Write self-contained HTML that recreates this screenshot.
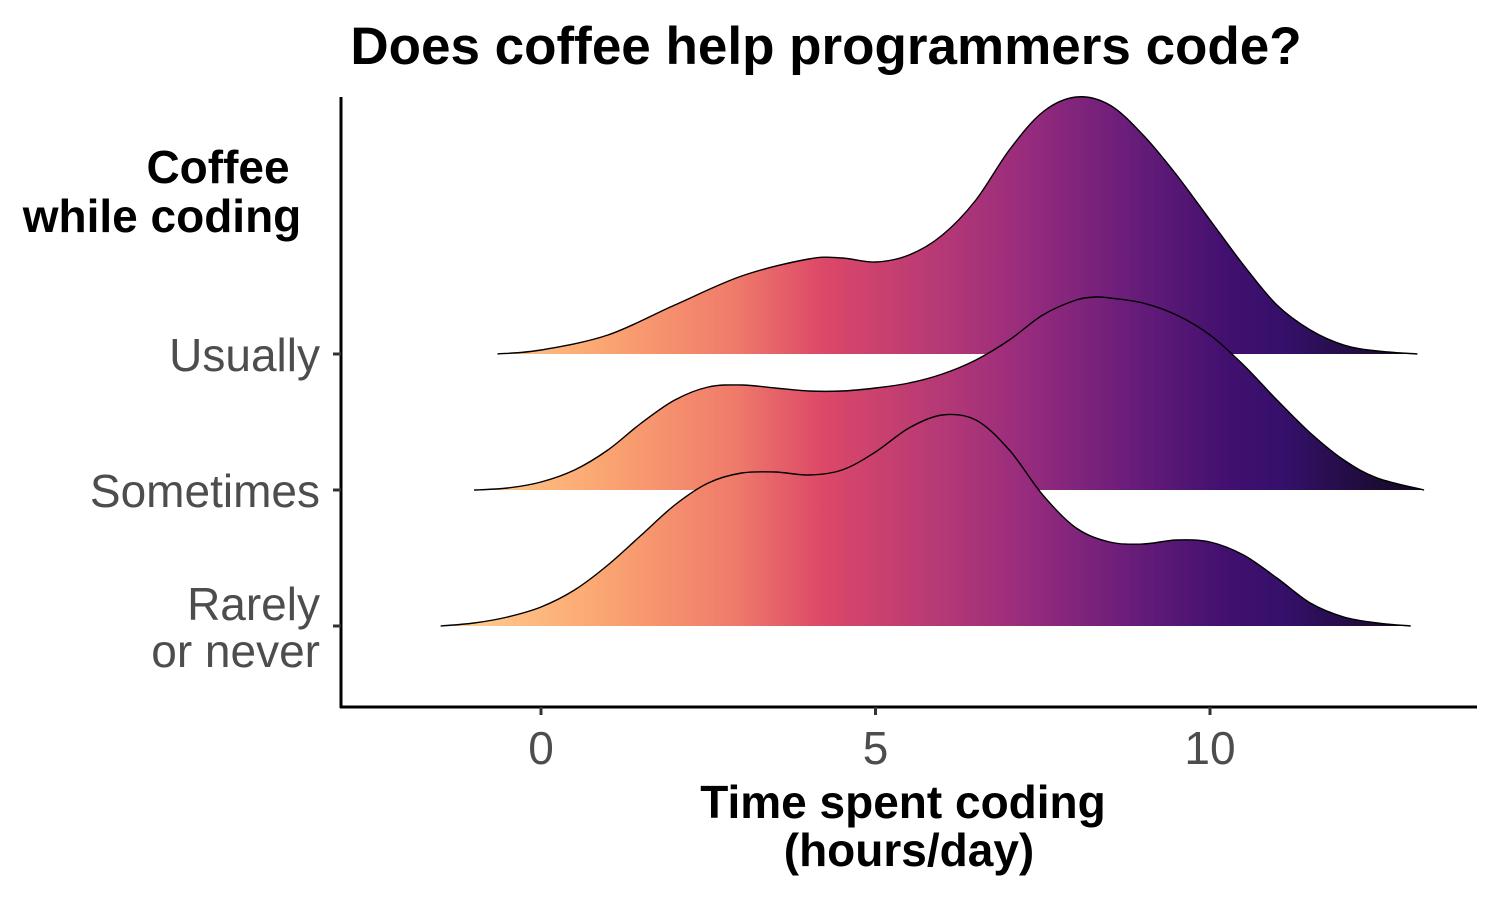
<!DOCTYPE html>
<html><head><meta charset="utf-8"><style>
html,body{margin:0;padding:0;background:#fff;}
svg text{font-family:"Liberation Sans",Arial,sans-serif;}
</style></head><body>
<svg id="chart" width="1500" height="900" viewBox="0 0 1500 900">
<defs>
<linearGradient id="magma" gradientUnits="userSpaceOnUse" x1="441" y1="0" x2="1422" y2="0">
<stop offset="0" stop-color="#fed395"/>
<stop offset="0.15" stop-color="#fcaa73"/>
<stop offset="0.3" stop-color="#ef7a6a"/>
<stop offset="0.39" stop-color="#dc4868"/>
<stop offset="0.5" stop-color="#b83a75"/>
<stop offset="0.6" stop-color="#962b7d"/>
<stop offset="0.7" stop-color="#6a1d7a"/>
<stop offset="0.8" stop-color="#42106f"/>
<stop offset="0.86" stop-color="#35106a"/>
<stop offset="1" stop-color="#100a1c"/>
</linearGradient>
</defs>
<text x="826" y="64" text-anchor="middle" font-size="53" font-weight="bold">Does coffee help programmers code?</text>
<g>
<text x="218" y="183" text-anchor="middle" font-size="46" font-weight="bold">Coffee</text>
<text x="162" y="232" text-anchor="middle" font-size="46" font-weight="bold">while coding</text>
</g>
<g id="ridges"></g>
<line x1="341" y1="97" x2="341" y2="708" stroke="#000" stroke-width="3"/>
<line x1="340" y1="707" x2="1477" y2="707" stroke="#000" stroke-width="3"/>
<g id="yticks"></g>
<g id="xticks"></g>
<g>
<text x="903" y="818" text-anchor="middle" font-size="46" font-weight="bold">Time spent coding</text>
<text x="909" y="866" text-anchor="middle" font-size="46" font-weight="bold">(hours/day)</text>
</g>
</svg>
<script>
const categories = ["Usually", "Sometimes", "Rarely\nor never"];
const xTicks = [0, 5, 10];
const usuallyX = [-0.65,0,1,2,3,4,4.5,5,5.5,6,6.5,7,7.5,8,8.5,9,9.5,10,10.5,11,11.5,12,12.5,13.1];
const usuallyD = [0,0.004,0.019,0.049,0.078,0.095,0.096,0.092,0.099,0.119,0.154,0.204,0.242,0.257,0.249,0.219,0.179,0.134,0.089,0.049,0.024,0.009,0.003,0];
const sometimesX = [-1,-0.5,0,0.5,1,1.5,2,2.5,3,3.5,4,4.5,5,5.5,6,6.5,7,7.5,8,8.3,8.5,9,9.5,10,10.5,11,11.5,12,12.5,13.2];
const sometimesD = [0,0.002,0.008,0.020,0.040,0.067,0.090,0.103,0.105,0.102,0.099,0.099,0.102,0.107,0.116,0.130,0.150,0.175,0.190,0.193,0.192,0.187,0.175,0.155,0.125,0.090,0.057,0.030,0.012,0];
const rarelyX = [-1.5,-1,-0.5,0,0.5,1,1.5,2,2.5,3,3.5,4,4.5,5,5.5,6,6.5,7,7.5,8,8.5,9,9.5,10,10.5,11,11.5,12,12.5,13];
const rarelyD = [0,0.003,0.009,0.019,0.036,0.061,0.091,0.121,0.143,0.153,0.154,0.151,0.156,0.174,0.198,0.211,0.206,0.176,0.131,0.098,0.084,0.082,0.086,0.084,0.071,0.048,0.023,0.009,0.003,0];

const ns = "http://www.w3.org/2000/svg";
const xs = v => 541 + v * 66.9;
const baselines = [354, 490, 626];
const yScale = (d, i) => baselines[i] - d * 1000;

function smoothPath(pts) {
  let d = "M" + pts[0][0] + "," + pts[0][1];
  for (let i = 0; i < pts.length - 1; i++) {
    const p0 = pts[i-1] || pts[i], p1 = pts[i], p2 = pts[i+1], p3 = pts[i+2] || p2;
    const c1 = [p1[0] + (p2[0]-p0[0])/6, p1[1] + (p2[1]-p0[1])/6];
    const c2 = [p2[0] - (p3[0]-p1[0])/6, p2[1] - (p3[1]-p1[1])/6];
    d += " C" + c1[0].toFixed(1) + "," + c1[1].toFixed(1) + " " + c2[0].toFixed(1) + "," + c2[1].toFixed(1) + " " + p2[0].toFixed(1) + "," + p2[1].toFixed(1);
  }
  return d;
}

const series = [[usuallyX, usuallyD], [sometimesX, sometimesD], [rarelyX, rarelyD]];
const names = ['ridge-usually', 'ridge-sometimes', 'ridge-rarely'];
const ridges = document.getElementById('ridges');
series.forEach((s, i) => {
  const pts = s[0].map((x, k) => [xs(x), yScale(s[1][k], i)]);
  const line = smoothPath(pts);
  const fill = document.createElementNS(ns, 'path');
  fill.setAttribute('d', line + " L" + pts[pts.length-1][0] + "," + baselines[i] + " L" + pts[0][0] + "," + baselines[i] + " Z");
  fill.setAttribute('fill', 'url(#magma)');
  
  
  ridges.appendChild(fill);
  const st = document.createElementNS(ns, 'path');
  st.setAttribute('d', line);
  st.setAttribute('fill', 'none');
  st.setAttribute('stroke', '#000');
  st.setAttribute('stroke-width', '1.4');
  
  
  ridges.appendChild(st);
});

const yt = document.getElementById('yticks');
categories.forEach((c, i) => {
  const y = baselines[i];
  const t = document.createElementNS(ns, 'line');
  t.setAttribute('x1', 333); t.setAttribute('x2', 341);
  t.setAttribute('y1', y); t.setAttribute('y2', y);
  t.setAttribute('stroke', '#333'); t.setAttribute('stroke-width', '3');
  
  
  yt.appendChild(t);
  const lines = c.split("\n");
  const tx = document.createElementNS(ns, 'text');
  tx.setAttribute('text-anchor', 'end');
  tx.setAttribute('font-size', '46');
  tx.setAttribute('fill', '#4d4d4d');
  
  
  const startY = y + 17 - (lines.length - 1) * 23;
  lines.forEach((l, k) => {
    const sp = document.createElementNS(ns, 'tspan');
    sp.setAttribute('x', 320);
    sp.setAttribute('y', startY + k * 47);
    sp.textContent = l;
    tx.appendChild(sp);
  });
  yt.appendChild(tx);
});

const xt = document.getElementById('xticks');
xTicks.forEach(v => {
  const t = document.createElementNS(ns, 'line');
  t.setAttribute('x1', xs(v)); t.setAttribute('x2', xs(v));
  t.setAttribute('y1', 707); t.setAttribute('y2', 715);
  t.setAttribute('stroke', '#333'); t.setAttribute('stroke-width', '3');
  
  
  xt.appendChild(t);
  const tx = document.createElementNS(ns, 'text');
  tx.setAttribute('x', xs(v));
  tx.setAttribute('y', 764);
  tx.setAttribute('text-anchor', 'middle');
  tx.setAttribute('font-size', '46');
  tx.setAttribute('fill', '#4d4d4d');
  
  
  tx.textContent = v;
  xt.appendChild(tx);
});
</script>
</body></html>
